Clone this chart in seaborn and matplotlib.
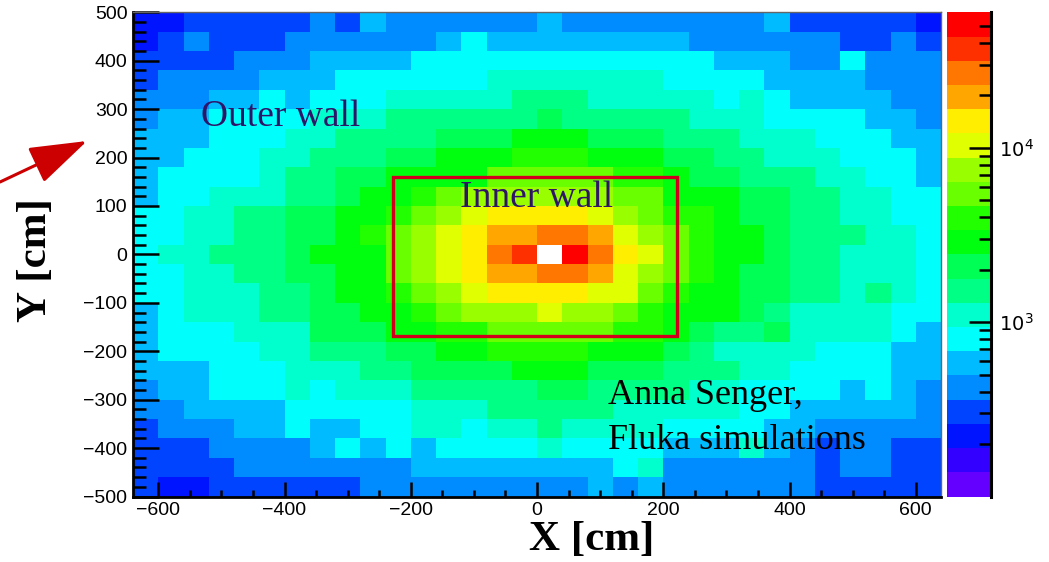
import colorsys
import numpy as np
import pandas as pd
import matplotlib
matplotlib.use("Agg")
import matplotlib.pyplot as plt
from matplotlib.colors import ListedColormap, LogNorm
from matplotlib.patches import Rectangle, FancyArrowPatch, ArrowStyle
from matplotlib.ticker import NullFormatter
import seaborn as sns

# ---------------------------------------------------------------------------
# Binning (cm): 32 x-bins of 40 cm, 25 y-bins of 40 cm
x_edges = np.arange(-640, 641, 40)
y_edges = np.arange(-500, 501, 40)
x_centers = (x_edges[:-1] + x_edges[1:]) / 2
y_centers_top_down = ((y_edges[:-1] + y_edges[1:]) / 2)[::-1]

# Hits per bin (x100), one list per y-bin from y = +480 down to y = -480
hits_x100 = [
    [2.4,2.4,3.3,3.3,3.3,3.3,3.3,4.5,3.3,6.2,4.5,4.5,4.5,4.5,4.5,4.5,6.2,4.5,4.5,4.5,4.5,4.5,4.5,4.5,4.5,6.2,3.3,3.3,3.3,3.3,3.3,2.4],
    [2.4,3.3,4.5,3.3,3.3,3.3,4.5,4.5,4.5,4.5,4.5,4.5,6.2,8.5,6.2,6.2,6.2,6.2,6.2,6.2,6.2,6.2,4.5,4.5,4.5,4.5,4.5,4.5,3.3,3.3,4.5,3.3],
    [3.3,3.3,3.3,3.3,4.5,4.5,4.5,6.2,6.2,6.2,6.2,8.5,8.5,8.5,8.5,8.5,8.5,8.5,8.5,8.5,8.5,8.5,8.5,6.2,6.2,6.2,4.5,4.5,8.5,4.5,4.5,4.5],
    [3.3,4.5,4.5,4.5,4.5,6.2,6.2,6.2,8.5,8.5,8.5,8.5,8.5,8.5,12,12,12,12,12,12,12,8.5,8.5,8.5,8.5,6.2,6.2,6.2,6.2,4.5,4.5,4.5],
    [4.5,4.5,4.5,6.2,6.2,8.5,6.2,8.5,8.5,8.5,12,12,12,12,12,16,16,16,12,12,12,12,12,8.5,12,8.5,6.2,6.2,6.2,6.2,4.5,4.5],
    [4.5,6.2,6.2,8.5,8.5,8.5,8.5,12,12,12,16,16,16,16,16,16,22,16,16,16,16,16,12,12,12,8.5,8.5,8.5,8.5,6.2,6.2,4.5],
    [6.2,6.2,6.2,8.5,8.5,8.5,12,12,16,16,16,16,22,22,22,31,31,31,22,22,22,16,16,16,12,12,12,8.5,8.5,8.5,6.2,6.2],
    [6.2,6.2,8.5,8.5,8.5,12,12,16,16,16,22,22,31,31,31,42,42,42,31,31,31,22,22,16,16,12,12,12,8.5,8.5,8.5,6.2],
    [6.2,8.5,8.5,8.5,8.5,12,16,16,22,22,31,31,31,31,58,58,58,58,58,42,42,31,22,22,16,16,16,12,12,8.5,8.5,6.2],
    [6.2,8.5,8.5,12,12,12,16,16,22,31,31,42,58,80,80,80,80,80,80,58,58,31,31,31,22,22,16,16,12,12,8.5,8.5],
    [8.5,8.5,12,12,16,16,22,22,31,31,42,58,80,110,150,150,150,150,110,80,58,42,42,31,22,22,16,16,12,12,8.5,8.5],
    [8.5,8.5,12,12,16,16,22,22,31,42,58,80,110,150,210,210,290,290,210,110,80,58,42,31,31,22,16,16,16,12,12,8.5],
    [8.5,12,12,16,16,16,22,31,31,31,58,80,110,150,290,390,750,540,290,150,110,58,42,31,31,22,16,16,12,12,12,8.5],
    [8.5,8.5,12,12,16,16,22,22,31,31,58,80,110,150,210,210,290,290,210,110,80,58,42,31,22,22,16,16,12,12,12,8.5],
    [8.5,8.5,12,12,12,16,16,22,31,31,42,58,80,110,150,150,150,150,110,110,58,42,31,31,22,22,16,16,12,16,12,8.5],
    [6.2,8.5,12,12,12,16,16,22,22,31,31,42,58,80,80,80,110,80,80,58,42,31,31,31,22,16,12,12,12,12,8.5,8.5],
    [6.2,8.5,8.5,8.5,12,12,12,22,22,22,31,31,42,42,58,58,58,58,58,42,42,31,22,16,16,22,12,12,12,12,8.5,6.2],
    [6.2,8.5,8.5,8.5,8.5,12,12,16,16,16,22,22,31,31,42,42,42,42,31,31,31,22,16,12,12,12,12,8.5,8.5,8.5,6.2,6.2],
    [6.2,6.2,6.2,8.5,8.5,8.5,12,12,12,16,16,22,22,22,22,31,31,31,22,22,22,16,16,16,12,12,8.5,8.5,8.5,8.5,6.2,6.2],
    [4.5,6.2,6.2,8.5,8.5,8.5,12,8.5,12,12,12,16,16,16,16,16,22,22,16,16,16,16,12,12,8.5,8.5,8.5,8.5,6.2,8.5,6.2,4.5],
    [4.5,4.5,6.2,6.2,6.2,6.2,8.5,8.5,8.5,8.5,8.5,12,12,12,16,16,16,16,16,12,12,12,12,12,8.5,8.5,6.2,6.2,6.2,6.2,6.2,4.5],
    [3.3,4.5,4.5,4.5,6.2,6.2,8.5,6.2,6.2,8.5,8.5,12,12,8.5,12,12,16,12,12,12,12,8.5,8.5,8.5,8.5,6.2,6.2,4.5,4.5,4.5,4.5,4.5],
    [3.3,3.3,3.3,4.5,4.5,4.5,4.5,6.2,8.5,6.2,8.5,6.2,8.5,8.5,8.5,8.5,12,8.5,8.5,8.5,8.5,6.2,6.2,6.2,12,6.2,4.5,3.3,4.5,4.5,3.3,3.3],
    [3.3,3.3,3.3,3.3,4.5,4.5,4.5,4.5,4.5,4.5,4.5,6.2,6.2,6.2,6.2,6.2,6.2,6.2,6.2,8.5,12,4.5,4.5,4.5,4.5,4.5,4.5,3.3,4.5,4.5,3.3,3.3],
    [3.3,2.4,2.4,3.3,3.3,3.3,3.3,3.3,3.3,4.5,4.5,4.5,4.5,4.5,4.5,4.5,4.5,4.5,6.2,4.5,6.2,4.5,4.5,4.5,4.5,4.5,4.5,3.3,3.3,3.3,3.3,3.3],
]

# Colour-scale range and annotation geometry (cm)
z_min, z_max = 1.0e2, 6.0e4
inner_wall = dict(x0=-228, x1=222, y0=-168, y1=160)

x_major = [-600, -400, -200, 0, 200, 400, 600]
y_major = list(range(-500, 501, 100))

# ---------------------------------------------------------------------------
hits = pd.DataFrame(np.array(hits_x100) * 100.0,
                    index=y_centers_top_down, columns=x_centers)

# ROOT-like "pretty" palette (50 hues, violet -> red), sampled at 20 contours
n_pretty, n_cont = 50, 20
pretty = [colorsys.hls_to_rgb((280 - (i + 1) * 280 / n_pretty) / 360.0, 0.5, 1.0)
          for i in range(n_pretty)]
levels = [pretty[int((k + 0.99) * n_pretty / n_cont)] for k in range(n_cont)]
cmap = ListedColormap(levels)
cmap.set_over("white")
norm = LogNorm(vmin=z_min, vmax=z_max)

W, H = 1049, 562
fig = plt.figure(figsize=(W / 100, H / 100), dpi=100)
ax = fig.add_axes([133 / W, 1 - 496.5 / H, 808 / W, 484.2 / H])
cax = fig.add_axes([947 / W, 1 - 496.5 / H, 44 / W, 484.2 / H])

sns.heatmap(hits, ax=ax, cmap=cmap, norm=norm, cbar=False,
            xticklabels=False, yticklabels=False, linewidths=0)

dx = x_edges[1] - x_edges[0]
dy = y_edges[1] - y_edges[0]


def xi(x):
    return (x - x_edges[0]) / dx


def yi(y):
    return (y_edges[-1] - y) / dy


tick_font = "Liberation Sans"
serif = "Liberation Serif"
plt.rcParams["mathtext.fontset"] = "custom"
plt.rcParams["mathtext.rm"] = tick_font

# frame
for side in ("left", "bottom"):
    ax.spines[side].set_visible(True)
    ax.spines[side].set_color("black")
    ax.spines[side].set_linewidth(2.0)
for side in ("top", "right"):
    ax.spines[side].set_visible(True)
    ax.spines[side].set_color("#666666")
    ax.spines[side].set_linewidth(1.0)

# ticks
ax.set_xticks([xi(v) for v in x_major])
ax.set_xticklabels([f"{v}".replace("-", "\u2212") for v in x_major],
                   fontsize=14, family=tick_font)
ax.set_xticks([xi(v) for v in range(-600, 601, 50)], minor=True)
ax.set_yticks([yi(v) for v in y_major])
ax.set_yticklabels([f"{v}".replace("-", "\u2212") for v in y_major],
                   fontsize=14, family=tick_font)
ax.set_yticks([yi(v) for v in range(-500, 501, 20)], minor=True)
ax.tick_params(axis="x", which="major", direction="in", length=10.5, width=1.8,
               pad=4, bottom=True, top=False)
ax.tick_params(axis="x", which="minor", direction="in", length=5.2, width=1.8,
               bottom=True, top=False)
ax.tick_params(axis="y", which="major", direction="in", length=18.5, width=1.8,
               pad=4, left=True, right=False)
ax.tick_params(axis="y", which="minor", direction="in", length=9.3, width=1.8,
               left=True, right=False)
ax.set_xlabel("")
ax.set_ylabel("")

# inner wall outline
ax.add_patch(Rectangle((xi(inner_wall["x0"]), yi(inner_wall["y1"])),
                       (inner_wall["x1"] - inner_wall["x0"]) / dx,
                       (inner_wall["y1"] - inner_wall["y0"]) / dy,
                       fill=False, edgecolor="#d0001c", linewidth=2.4, zorder=5))

wall_color = "#2f1468"
ax.text(xi(-533), yi(265), "Outer wall", family=serif, fontsize=27,
        color=wall_color, ha="left", va="baseline")
ax.text(xi(-122), yi(97), "Inner wall", family=serif, fontsize=27,
        color=wall_color, ha="left", va="baseline")
ax.text(xi(113), yi(-308), "Anna Senger,", family=serif, fontsize=26,
        color="black", ha="left", va="baseline")
ax.text(xi(113), yi(-401), "Fluka simulations", family=serif, fontsize=26,
        color="black", ha="left", va="baseline")

# colour bar
cbar = fig.colorbar(ax.collections[0], cax=cax, extend="neither")
cbar.outline.set_visible(False)
cax.spines["right"].set_visible(True)
cax.spines["right"].set_color("black")
cax.spines["right"].set_linewidth(2.2)
cbar.set_ticks([1e3, 1e4], labels=["$10^{3}$", "$10^{4}$"])
minor = [m * 10 ** e for e in (2, 3, 4) for m in range(2, 10) if m * 10 ** e < z_max]
cbar.set_ticks(minor, minor=True)
cax.yaxis.set_minor_formatter(NullFormatter())
cax.tick_params(axis="y", which="major", direction="in", length=16, width=1.8,
                labelsize=14, pad=6, right=True, left=False)
cax.tick_params(axis="y", which="minor", direction="in", length=8.5, width=1.8,
                right=True, left=False)

# axis titles
fig.text(592 / W, 1 - 540 / H, "X [cm]", family=serif, weight="bold",
         fontsize=31, ha="center", va="center")
fig.text(36 / W, 1 - 260 / H, "Y [cm]", family=serif, weight="bold",
         fontsize=31, ha="center", va="center", rotation=90)

# pointer to the outer wall
arrow = FancyArrowPatch((0.0, 1 - 182 / H), (87 / W, 1 - 141 / H),
                        transform=fig.transFigure,
                        arrowstyle=ArrowStyle("-|>", head_length=36, head_width=12),
                        mutation_scale=1, linewidth=2.2, color="#cc0000",
                        shrinkA=0, shrinkB=0, clip_on=False)
fig.add_artist(arrow)

fig.savefig("out.png", dpi=100)
